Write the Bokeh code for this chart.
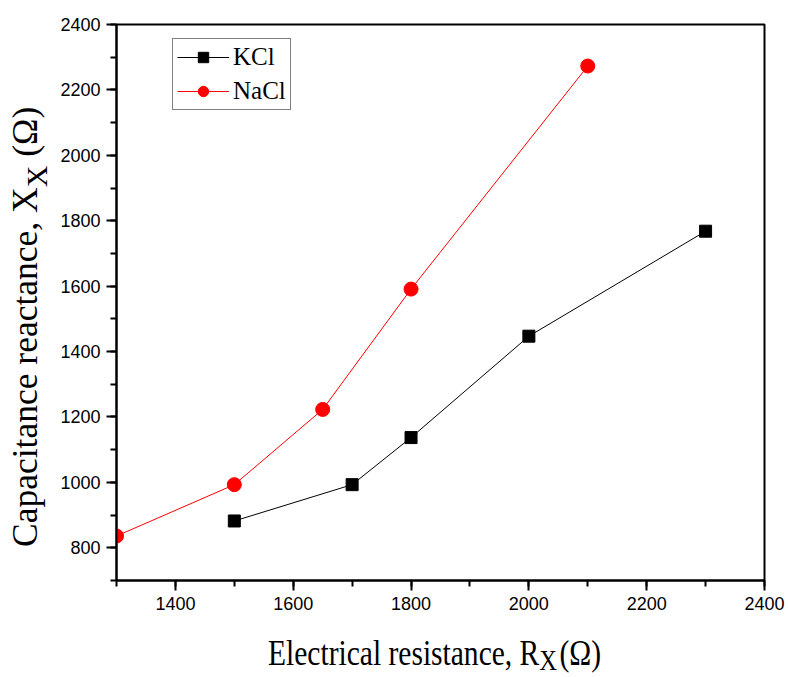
from bokeh.plotting import figure
from bokeh.models import Range1d, SingleIntervalTicker, Legend, LegendItem, Div
from bokeh.layouts import row, column
from bokeh.embed import file_html
from bokeh.resources import INLINE

# Data
kcl_r = [1500, 1700, 1800, 2000, 2300]
kcl_x = [882, 993, 1137, 1447, 1768]
nacl_r = [1300, 1500, 1650, 1800, 2100]
nacl_x = [836, 993, 1223, 1591, 2273]
series_names = ["KCl", "NaCl"]
x_title = ("Electrical resistance, R", "X", "(Ω)")
y_title = ("Capacitance reactance, X", "X", "(Ω)")

LEFT_W = 50
p = figure(width=788 - LEFT_W, height=620, output_backend="svg", toolbar_location=None,
           x_range=Range1d(1300, 2400), y_range=Range1d(700, 2400),
           min_border_left=116 - LEFT_W, min_border_right=24, min_border_top=24,
           min_border_bottom=40, margin=0)
p.background_fill_color = "white"
p.border_fill_color = "white"
p.outline_line_color = "black"
p.outline_line_width = 2
p.grid.visible = False

p.xaxis.ticker = SingleIntervalTicker(interval=200, num_minor_ticks=2)
p.yaxis.ticker = SingleIntervalTicker(interval=200, num_minor_ticks=2)
for ax in (p.xaxis[0], p.yaxis[0]):
    ax.axis_line_width = 2
    ax.major_tick_line_width = 2
    ax.minor_tick_line_width = 2
    ax.major_tick_out = 10
    ax.major_tick_in = 0
    ax.minor_tick_out = 6
    ax.minor_tick_in = 0
    ax.major_label_text_font = "Liberation Sans"
    ax.major_label_text_font_size = "18px"
    ax.major_label_text_color = "black"
    ax.major_label_standoff = 6
p.xaxis.major_label_overrides = {1300: ""}
p.yaxis.major_label_overrides = {700: ""}

r1 = p.line(kcl_r, kcl_x, line_color="black", line_width=1)
s1 = p.scatter(kcl_r, kcl_x, marker="square", size=12, fill_color="black", line_color="black")
r2 = p.line(nacl_r, nacl_x, line_color="red", line_width=1)
s2 = p.scatter(nacl_r, nacl_x, marker="circle", size=14, fill_color="red", line_color="red")

legend = Legend(items=[LegendItem(label=series_names[0], renderers=[r1, s1]),
                       LegendItem(label=series_names[1], renderers=[r2, s2])],
                location=(56, 470))
legend.label_text_font = "Liberation Serif"
legend.label_text_font_size = "25px"
legend.label_text_color = "black"
legend.glyph_width = 52
legend.glyph_height = 26
legend.spacing = 6
legend.padding = 4
legend.margin = 0
legend.label_standoff = 4
legend.border_line_color = "black"
legend.border_line_width = 1.5
legend.background_fill_alpha = 1
p.add_layout(legend, "center")

serif = "'Liberation Serif', 'Times New Roman', serif"

y_html = (
    f'<div style="position:relative;width:{LEFT_W}px;height:677px;">'
    '<div style="position:absolute;left:0;top:0;transform-origin:0 0;'
    'transform:translate(7.5px,547px) rotate(-90deg);white-space:nowrap;'
    f'font-family:{serif};font-size:35.5px;line-height:35.5px;color:black;">'
    f'{y_title[0]}<span style="font-size:30px;position:relative;top:10px;">{y_title[1]}</span>'
    f' {y_title[2]}</div></div>'
)
ydiv = Div(text=y_html, width=LEFT_W, height=677, margin=0)

x_html = (
    f'<div style="position:relative;width:{788 - LEFT_W}px;height:57px;">'
    f'<div style="position:absolute;left:{268 - LEFT_W}px;top:14.8px;transform-origin:0 0;'
    'transform:scaleX(0.82);white-space:nowrap;'
    f'font-family:{serif};font-size:36px;line-height:36px;color:black;">'
    f'{x_title[0]}<span style="font-size:30px;position:relative;top:5px;">{x_title[1]}</span>'
    f'<span style="margin-left:3px;">{x_title[2]}</span></div></div>'
)
xdiv = Div(text=x_html, width=788 - LEFT_W, height=57, margin=0)

layout = row(ydiv, column(p, xdiv, spacing=0, margin=0), spacing=0, margin=0)

open("out.html", "w").write(file_html(layout, INLINE))
